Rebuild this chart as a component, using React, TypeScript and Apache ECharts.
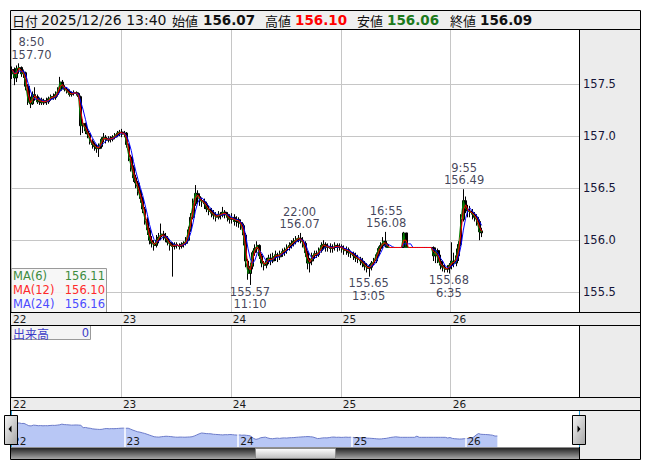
import React, { useEffect, useRef } from 'react';
import * as echarts from 'echarts';

// ---- data (30-minute bars) ----
const firstDay = 22;
const sessionOpenHour = 7; // each day's session starts at 07:00
const slotMinutes = 30;
const dayLabels = ['22', '23', '24', '25', '26'];
const priceTicks = [155.5, 156.0, 156.5, 157.0, 157.5];

// [open, close, low, high]
const ohlc22 = [
  [157.60, 157.64, 157.55, 157.67], [157.64, 157.56, 157.49, 157.66], [157.56, 157.65, 157.52, 157.68], [157.65, 157.66, 157.60, 157.70],
  [157.66, 157.60, 157.57, 157.67], [157.60, 157.61, 157.56, 157.64], [157.61, 157.48, 157.44, 157.62], [157.48, 157.33, 157.30, 157.50],
  [157.33, 157.31, 157.27, 157.38], [157.31, 157.40, 157.30, 157.43], [157.40, 157.38, 157.34, 157.47], [157.38, 157.33, 157.31, 157.40],
  [157.33, 157.35, 157.30, 157.37], [157.35, 157.32, 157.30, 157.37], [157.32, 157.34, 157.30, 157.36], [157.34, 157.33, 157.30, 157.37],
  [157.33, 157.36, 157.31, 157.38], [157.36, 157.38, 157.34, 157.40], [157.38, 157.37, 157.35, 157.41], [157.37, 157.40, 157.35, 157.43],
  [157.40, 157.44, 157.38, 157.47], [157.44, 157.52, 157.42, 157.57], [157.52, 157.47, 157.45, 157.54], [157.47, 157.45, 157.43, 157.49],
  [157.45, 157.43, 157.41, 157.47], [157.43, 157.40, 157.38, 157.45], [157.40, 157.41, 157.38, 157.43], [157.41, 157.42, 157.39, 157.44],
  [157.42, 157.41, 157.39, 157.43], [157.41, 157.38, 157.36, 157.42], [157.38, 157.10, 157.01, 157.39], [157.10, 157.12, 157.03, 157.16],
  [157.12, 157.05, 157.02, 157.13], [157.05, 157.02, 156.98, 157.08], [157.02, 156.95, 156.92, 157.03], [156.95, 156.92, 156.88, 156.97],
  [156.92, 156.90, 156.86, 156.94], [156.90, 156.88, 156.84, 156.92], [156.88, 156.90, 156.80, 156.93], [156.90, 156.97, 156.88, 156.99],
  [156.97, 156.99, 156.94, 157.03], [156.99, 156.96, 156.93, 157.01], [156.96, 156.98, 156.94, 157.00], [156.98, 156.97, 156.94, 157.00],
  [156.97, 156.99, 156.95, 157.01], [156.99, 157.01, 156.97, 157.03], [157.01, 157.03, 156.99, 157.05], [157.03, 157.04, 157.00, 157.06],
];
const ohlc23 = [
  [157.04, 157.02, 156.99, 157.07], [157.02, 157.03, 156.99, 157.05], [157.03, 156.92, 156.89, 157.04], [156.92, 156.80, 156.76, 156.93],
  [156.80, 156.70, 156.66, 156.82], [156.70, 156.60, 156.56, 156.72], [156.60, 156.55, 156.50, 156.63], [156.55, 156.47, 156.43, 156.57],
  [156.47, 156.40, 156.36, 156.49], [156.40, 156.30, 156.26, 156.42], [156.30, 156.20, 156.15, 156.32], [156.20, 156.10, 156.05, 156.22],
  [156.10, 156.00, 155.96, 156.12], [156.00, 155.97, 155.93, 156.04], [155.97, 155.95, 155.90, 156.00], [155.95, 156.00, 155.93, 156.05],
  [156.00, 156.03, 155.97, 156.07], [156.03, 156.06, 156.00, 156.16], [156.06, 156.04, 156.00, 156.09], [156.04, 156.02, 155.98, 156.07],
  [156.02, 155.98, 155.95, 156.04], [155.98, 155.95, 155.90, 156.00], [155.95, 155.94, 155.65, 155.98], [155.94, 155.96, 155.91, 155.98],
  [155.96, 155.95, 155.92, 155.98], [155.95, 155.94, 155.91, 155.97], [155.94, 155.96, 155.92, 155.98], [155.96, 155.97, 155.93, 155.99],
  [155.97, 156.00, 155.95, 156.03], [156.00, 156.10, 155.99, 156.13], [156.10, 156.22, 156.08, 156.26], [156.22, 156.35, 156.20, 156.40],
  [156.35, 156.45, 156.33, 156.53], [156.45, 156.42, 156.36, 156.48], [156.42, 156.38, 156.33, 156.45], [156.38, 156.37, 156.32, 156.41],
  [156.37, 156.35, 156.30, 156.40], [156.35, 156.30, 156.27, 156.37], [156.30, 156.28, 156.24, 156.33], [156.28, 156.26, 156.22, 156.31],
  [156.26, 156.24, 156.20, 156.29], [156.24, 156.22, 156.18, 156.27], [156.22, 156.25, 156.20, 156.28], [156.25, 156.24, 156.20, 156.27],
  [156.24, 156.27, 156.22, 156.32], [156.27, 156.25, 156.21, 156.29], [156.25, 156.22, 156.18, 156.27], [156.22, 156.20, 156.16, 156.25],
];
const ohlc24 = [
  [156.20, 156.22, 156.16, 156.26], [156.22, 156.18, 156.14, 156.25], [156.18, 156.20, 156.13, 156.23], [156.20, 156.17, 156.12, 156.22],
  [156.17, 156.14, 156.10, 156.20], [156.14, 156.05, 155.95, 156.16], [156.05, 155.80, 155.74, 156.07], [155.80, 155.68, 155.62, 155.82],
  [155.68, 155.75, 155.57, 155.78], [155.75, 155.88, 155.72, 155.90], [155.88, 155.92, 155.85, 155.96], [155.92, 155.95, 155.88, 155.99],
  [155.95, 155.85, 155.82, 155.96], [155.85, 155.78, 155.74, 155.87], [155.78, 155.76, 155.71, 155.80], [155.76, 155.80, 155.73, 155.83],
  [155.80, 155.83, 155.77, 155.86], [155.83, 155.80, 155.76, 155.87], [155.80, 155.84, 155.78, 155.88], [155.84, 155.86, 155.80, 155.90],
  [155.86, 155.84, 155.79, 155.88], [155.84, 155.87, 155.81, 155.90], [155.87, 155.89, 155.84, 155.92], [155.89, 155.90, 155.85, 155.93],
  [155.90, 155.93, 155.87, 155.96], [155.93, 155.95, 155.90, 155.98], [155.95, 155.97, 155.92, 156.00], [155.97, 155.99, 155.94, 156.02],
  [155.99, 156.01, 155.96, 156.04], [156.01, 156.02, 155.98, 156.05], [156.02, 156.00, 155.97, 156.07], [156.00, 155.97, 155.93, 156.03],
  [155.97, 155.88, 155.84, 155.99], [155.88, 155.78, 155.72, 155.90], [155.78, 155.80, 155.69, 155.83], [155.80, 155.85, 155.76, 155.88],
  [155.85, 155.87, 155.82, 155.90], [155.87, 155.86, 155.83, 155.90], [155.86, 155.90, 155.84, 155.93], [155.90, 155.95, 155.88, 155.98],
  [155.95, 155.96, 155.91, 156.00], [155.96, 155.93, 155.89, 155.98], [155.93, 155.94, 155.89, 155.97], [155.94, 155.92, 155.88, 155.97],
  [155.92, 155.93, 155.88, 155.96], [155.93, 155.95, 155.90, 155.98], [155.95, 155.93, 155.89, 155.97], [155.93, 155.94, 155.90, 155.97],
];
const ohlc25 = [
  [155.94, 155.92, 155.88, 155.96], [155.92, 155.90, 155.86, 155.95], [155.90, 155.91, 155.86, 155.94], [155.91, 155.88, 155.84, 155.93],
  [155.88, 155.87, 155.83, 155.90], [155.87, 155.85, 155.81, 155.89], [155.85, 155.83, 155.79, 155.88], [155.83, 155.82, 155.78, 155.86],
  [155.82, 155.80, 155.76, 155.84], [155.80, 155.78, 155.74, 155.83], [155.78, 155.75, 155.71, 155.80], [155.75, 155.73, 155.69, 155.78],
  [155.73, 155.74, 155.65, 155.77], [155.74, 155.78, 155.71, 155.80], [155.78, 155.80, 155.76, 155.83], [155.80, 155.86, 155.78, 155.88],
  [155.86, 155.92, 155.84, 155.94], [155.92, 155.95, 155.89, 155.98], [155.95, 155.99, 155.92, 156.03], [155.99, 155.96, 155.93, 156.08],
  [155.96, 155.93, 155.93, 155.97], [155.93, 155.93, 155.93, 155.93], [155.93, 155.93, 155.93, 155.93], [155.93, 155.93, 155.93, 155.93],
  [155.93, 155.93, 155.93, 155.93], [155.93, 155.93, 155.93, 155.93], [155.93, 155.93, 155.93, 155.93], [155.93, 156.07, 155.93, 156.08],
  [156.07, 155.93, 155.93, 156.07], [155.93, 155.93, 155.93, 155.93], [155.93, 155.93, 155.93, 155.93], [155.93, 155.93, 155.93, 155.93],
  [155.93, 155.93, 155.93, 155.93], [155.93, 155.93, 155.93, 155.93], [155.93, 155.93, 155.93, 155.93], [155.93, 155.93, 155.93, 155.93],
  [155.93, 155.93, 155.93, 155.93], [155.93, 155.93, 155.93, 155.93], [155.93, 155.93, 155.93, 155.93], [155.93, 155.93, 155.93, 155.93],
  [155.93, 155.85, 155.80, 155.94], [155.85, 155.90, 155.78, 155.93], [155.90, 155.80, 155.78, 155.92], [155.80, 155.76, 155.72, 155.86],
  [155.76, 155.74, 155.70, 155.80], [155.74, 155.72, 155.69, 155.77], [155.72, 155.73, 155.69, 155.76], [155.73, 155.76, 155.68, 155.78],
];
const ohlc26 = [
  [155.76, 155.80, 155.72, 155.98], [155.80, 155.78, 155.74, 155.88], [155.78, 155.85, 155.75, 155.92], [155.85, 155.96, 155.80, 155.99],
  [155.96, 156.20, 155.94, 156.25], [156.20, 156.38, 156.18, 156.49], [156.38, 156.30, 156.26, 156.42], [156.30, 156.28, 156.22, 156.34],
  [156.28, 156.27, 156.22, 156.33], [156.27, 156.25, 156.20, 156.30], [156.25, 156.22, 156.18, 156.27], [156.22, 156.18, 156.14, 156.25],
  [156.18, 156.08, 156.00, 156.20], [156.07, 156.09, 156.03, 156.12],
];

const maPeriods = [6, 12, 24]; // periods in 5-minute bars
const maNames = ['MA(6)', 'MA(12)', 'MA(24)'];
const maLastValues = ['156.11', '156.10', '156.16'];
const volumeName = '出来高';
const volumeLast = '0';

const headerDate = '2025/12/26 13:40';
const headerLabels = ['始値', '高値', '安値', '終値'];
const headerValues = ['156.07', '156.10', '156.06', '156.09'];

const extremes = [
  { time: '12/22 8:50', price: 157.70, side: 'top' },
  { time: '12/24 11:10', price: 155.57, side: 'bottom' },
  { time: '12/24 22:00', price: 156.07, side: 'top' },
  { time: '12/25 13:05', price: 155.65, side: 'bottom' },
  { time: '12/25 16:55', price: 156.08, side: 'top' },
  { time: '12/26 6:35', price: 155.68, side: 'bottom' },
  { time: '12/26 9:55', price: 156.49, side: 'top' },
];

// ---- helpers ----
const toHours = (stamp: string) => {
  const [md, hm] = stamp.split(' ');
  const day = Number(md.split('/')[1]);
  const [hh, mm] = hm.split(':').map(Number);
  return (day - firstDay) * 24 + hh + mm / 60 - sessionOpenHour;
};

const FONT = '"DejaVu Sans", sans-serif';
const CJK = '"Noto Sans CJK JP", sans-serif';

export default function App() {
  const ref = useRef<HTMLDivElement>(null);
  useEffect(() => {
    if (!ref.current) return;
    const chart = echarts.init(ref.current, undefined, { renderer: 'svg' });

    const dayTicks = dayLabels.map((d) => toHours(`12/${d} ${sessionOpenHour}:00`));
    const dayFmt = (v: number) => {
      const i = dayTicks.indexOf(Math.round(v));
      return i >= 0 ? dayLabels[i] : '';
    };
    const all = [...ohlc22, ...ohlc23, ...ohlc24, ...ohlc25, ...ohlc26];
    const slotH = slotMinutes / 60;
    const xs = all.map((_, i) => (i + 0.5) * slotH);
    const candleData = all.map((c, i) => [xs[i], c[0], c[1], c[2], c[3]]);
    const closes = all.map((c) => c[1]);
    const maData = maPeriods.map((p) => {
      const k = Math.max(1, Math.round((p * 5) / slotMinutes));
      return closes.map((_, i) => {
        const s = Math.max(0, i - k + 1);
        const seg = closes.slice(s, i + 1);
        return [xs[i], seg.reduce((a, b) => a + b, 0) / seg.length];
      });
    });
    const maColors = ['#008000', '#ff0000', '#0000ff'];
    const maTextColors = ['#3d8c3d', '#ff2a2a', '#4b4bff'];

    const extremeData = extremes.map((e) => {
      const t = e.time.split(' ')[1];
      const p = e.price.toFixed(2);
      const nudge = e.time === '12/22 8:50' ? [12, 0] : [0, 0];
      return {
        value: [toHours(e.time), e.price],
        label: {
          position: e.side,
          distance: e.side === 'top' ? 2 : 0,
          offset: nudge,
          formatter: e.side === 'top' ? `${t}\n${p}` : `${p}\n${t}`,
        },
      };
    });

    const dayAxis = (grid: number, max: number) => ({
      type: 'value',
      gridIndex: grid,
      min: 0,
      max,
      axisLine: { show: false },
      axisTick: { show: false, customValues: dayTicks },
      splitLine: { show: true, lineStyle: { color: '#c6c6c6', width: 1 } },
      axisLabel: {
        customValues: dayTicks,
        formatter: dayFmt,
        align: 'left',
        verticalAlign: 'top',
        margin: 0,
        padding: [0, 0, 0, 2],
        lineHeight: 13,
        fontFamily: FONT,
        fontSize: 10.5,
        color: '#1a1a1a',
      },
    });

    const els: any[] = [];
    const bg = '#ececec';
    const rect = (x: number, y: number, w: number, h: number, style: any, z = -5) =>
      els.push({ type: 'rect', shape: { x, y, width: w, height: h }, style, z, silent: true });
    const line = (x1: number, y1: number, x2: number, y2: number, stroke = '#000', z = 20) =>
      els.push({ type: 'line', shape: { x1, y1, x2, y2 }, style: { stroke, lineWidth: 1 }, z, silent: true });
    const text = (x: number, y: number, t: string, font: string, fill: string, align = 'left', z = 21) =>
      els.push({ type: 'text', x, y, style: { text: t, font, fill, textAlign: align, textVerticalAlign: 'middle' }, z, silent: true });

    // backgrounds
    rect(10, 10, 630, 19, { fill: '#efefef' });
    rect(579, 29, 61, 283, { fill: bg });
    rect(10, 312, 630, 13, { fill: bg });
    rect(579, 325, 61, 72, { fill: bg });
    rect(10, 397, 630, 13, { fill: bg });
    rect(579, 410, 61, 49, { fill: bg });
    // scrollbar
    rect(10, 447.5, 569, 11.5, {
      fill: new echarts.graphic.LinearGradient(0, 0, 0, 1, [
        { offset: 0, color: '#1e1e1e' },
        { offset: 1, color: '#a8a8a8' },
      ]),
    }, 15);
    rect(255.5, 448.5, 80, 10, {
      fill: new echarts.graphic.LinearGradient(0, 0, 0, 1, [
        { offset: 0, color: '#ffffff' },
        { offset: 1, color: '#bdbdbd' },
      ]),
      stroke: '#8a8a8a',
      lineWidth: 1,
    }, 16);

    // frame lines
    els.push({ type: 'rect', shape: { x: 10.5, y: 10.5, width: 630, height: 449 }, style: { fill: 'none', stroke: '#000', lineWidth: 1 }, z: 20, silent: true });
    [29.5, 312.5, 325.5, 397.5, 410.5].forEach((y) => line(10, y, 640, y));
    line(579.5, 29, 579.5, 312);
    line(579.5, 325, 579.5, 397);
    line(579.5, 459, 579.5, 447);
    line(11.5, 411, 11.5, 447, '#2b9fd8');
    line(579.5, 411, 579.5, 447, '#2b9fd8');

    // navigator handles
    const handleFill = () => new echarts.graphic.LinearGradient(0, 0, 1, 1, [
      { offset: 0, color: '#f6f6f6' },
      { offset: 1, color: '#a4a4a4' },
    ]);
    rect(4.5, 415.5, 13, 29, { fill: handleFill(), stroke: '#000', lineWidth: 1 }, 25);
    rect(572.5, 415.5, 13, 29, { fill: handleFill(), stroke: '#000', lineWidth: 1 }, 25);
    els.push({ type: 'polygon', shape: { points: [[8.5, 429], [11.5, 425.5], [11.5, 432.5]] }, style: { fill: '#000' }, z: 26, silent: true });
    els.push({ type: 'polygon', shape: { points: [[580.5, 429], [577.5, 425.5], [577.5, 432.5]] }, style: { fill: '#000' }, z: 26, silent: true });

    // header
    text(12, 20, '日付', `13px ${CJK}`, '#111');
    text(41, 20, headerDate, `14px ${FONT}`, '#111');
    const labelX = [172, 265, 357, 450];
    const valueX = [203, 295, 387, 480];
    const valueColors = ['#111', '#ff0000', '#1c7a1c', '#111'];
    headerLabels.forEach((l, i) => {
      text(labelX[i], 20, l, `13px ${CJK}`, '#111');
      text(valueX[i], 20, headerValues[i], `bold 13.5px ${FONT}`, valueColors[i]);
    });

    // MA legend box
    els.push({ type: 'rect', shape: { x: 11.5, y: 268.5, width: 95, height: 44 }, style: { fill: 'rgba(246,246,246,0.9)', stroke: '#9a9a9a', lineWidth: 1 }, z: 18, silent: true });
    maNames.forEach((n, i) => {
      const y = 275.5 + i * 14;
      text(13, y, n, `11.5px ${FONT}`, maTextColors[i]);
      text(105, y, maLastValues[i], `11.5px ${FONT}`, maTextColors[i], 'right');
    });
    // volume box
    els.push({ type: 'rect', shape: { x: 11.5, y: 325.5, width: 79, height: 14 }, style: { fill: '#f4f4f4', stroke: '#9a9a9a', lineWidth: 1 }, z: 18, silent: true });
    text(13, 333, volumeName, `12px ${CJK}`, '#3c3cc8');
    text(89, 333, volumeLast, `11.5px ${FONT}`, '#3c3cc8', 'right');

    const option: any = {
      animation: false,
      backgroundColor: '#fff',
      grid: [
        { left: 11, top: 29, width: 568, height: 283, show: false },
        { left: 11, top: 325, width: 568, height: 72, show: false },
        { left: 11, top: 410, width: 568, height: 37, show: false },
      ],
      xAxis: [
        dayAxis(0, 124),
        dayAxis(1, 124),
        {
          type: 'value',
          gridIndex: 2,
          min: 0,
          max: 120,
          z: 10,
          axisLine: { show: false },
          axisTick: { show: false, customValues: dayTicks },
          splitLine: { show: false },
          axisLabel: {
            customValues: dayTicks,
            formatter: dayFmt,
            inside: true,
            align: 'left',
            verticalAlign: 'bottom',
            margin: 1,
            padding: [0, 0, 0, 2],
            fontFamily: FONT,
            fontSize: 10.5,
            color: '#1a1a1a',
          },
        },
      ],
      yAxis: [
        {
          type: 'value',
          gridIndex: 0,
          position: 'right',
          min: 155.31,
          max: 158.03,
          axisLine: { show: false },
          axisTick: { show: false, customValues: priceTicks },
          splitLine: { show: true, lineStyle: { color: '#c6c6c6' } },
          axisLabel: {
            customValues: priceTicks,
            formatter: (v: number) => v.toFixed(1),
            margin: 4,
            fontFamily: FONT,
            fontSize: 11.5,
            color: '#141438',
          },
        },
        { type: 'value', gridIndex: 1, min: 0, max: 1, show: false },
        { type: 'value', gridIndex: 2, min: 154.76, max: 159.23, show: false },
      ],
      series: [
        {
          type: 'candlestick',
          xAxisIndex: 0,
          yAxisIndex: 0,
          data: candleData,
          encode: { x: 0, y: [1, 2, 3, 4] },
          barWidth: 2.4,
          itemStyle: { color: '#0c7a0c', color0: '#000', borderColor: '#000', borderColor0: '#000', borderWidth: 1 },
          z: 2,
        },
        ...[0, 2, 1].map((i) => ({
          type: 'line',
          name: maNames[i],
          xAxisIndex: 0,
          yAxisIndex: 0,
          data: maData[i],
          showSymbol: false,
          lineStyle: { color: maColors[i], width: 1 },
          z: 3,
        })),
        {
          type: 'scatter',
          xAxisIndex: 0,
          yAxisIndex: 0,
          data: extremeData,
          symbol: 'circle',
          symbolSize: 1,
          itemStyle: { color: 'rgba(0,0,0,0)' },
          label: {
            show: true,
            fontFamily: FONT,
            fontSize: 11.5,
            lineHeight: 12.5,
            color: '#111130',
            align: 'center',
          },
          z: 5,
        },
        {
          type: 'line',
          xAxisIndex: 2,
          yAxisIndex: 2,
          data: closes.map((c, i) => [xs[i], c]),
          showSymbol: false,
          lineStyle: { color: '#6c7bc9', width: 1 },
          areaStyle: { color: '#b8c7f5', origin: 'start', opacity: 1 },
          markLine: {
            silent: true,
            symbol: 'none',
            label: { show: false },
            lineStyle: { color: '#ffffff', width: 1.5, type: 'solid' },
            data: dayTicks.slice(1).map((d) => ({ xAxis: d })),
          },
          z: 2,
        },
      ],
      graphic: { elements: els },
    };
    chart.setOption(option);
    return () => chart.dispose();
  }, []);
  return <div ref={ref} style={{ position: 'absolute', left: 0, top: 0, width: 653, height: 470 }} />;
}
